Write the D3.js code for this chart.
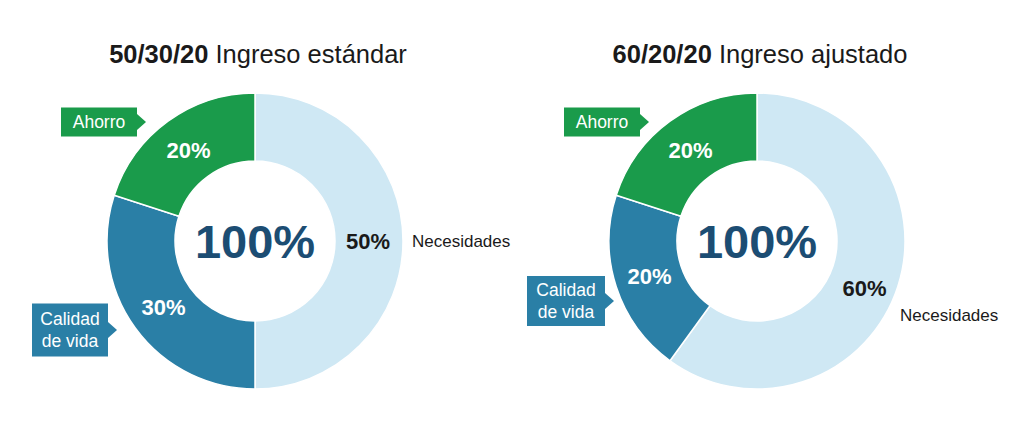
<!DOCTYPE html>
<html>
<head>
<meta charset="utf-8">
<script src="https://cdn.jsdelivr.net/npm/d3@7"></script>
<style>
  html, body { margin: 0; padding: 0; background: #ffffff; }
  svg { display: block; font-family: "Liberation Sans", Arial, sans-serif; }
</style>
</head>
<body>
<svg id="chart" width="1024" height="427"></svg>
<script>
// ---- data ----
const categories = ["Necesidades", "Calidad de vida", "Ahorro"];
const chartTitlesBold = ["50/30/20", "60/20/20"];
const chartTitlesRest = ["Ingreso estándar", "Ingreso ajustado"];
const valuesStandard = [50, 30, 20];
const valuesAdjusted = [60, 20, 20];
const centerLabel = "100%";
const colors = ["#cfe8f4", "#2a7fa6", "#1a9b4b"];

// ---- layout ----
const W = 1024, H = 427;
const svg = d3.select("#chart");
const outerR = 148, innerR = 80, labelR = 113;

const charts = [
  { cx: 255, cy: 241, values: valuesStandard, title: 0,
    needsLabel: { x: 157, y: 0 },
    callouts: [null, { rx: -147, cy: 89, w: 76, h: 53 }, { rx: -118, cy: -119, w: 76, h: 29 }] },
  { cx: 757, cy: 241, values: valuesAdjusted, title: 1,
    needsLabel: { x: 143, y: 74 },
    callouts: [null, { rx: -152, cy: 60, w: 78, h: 50 }, { rx: -117, cy: -119, w: 76, h: 29 }] }
];

const pie = d3.pie().sort(null).value(d => d);
const arc = d3.arc().innerRadius(innerR).outerRadius(outerR);
const labelArc = d3.arc().innerRadius(labelR).outerRadius(labelR);

charts.forEach(c => {
  const g = svg.append("g").attr("transform", `translate(${c.cx},${c.cy})`);
  const arcs = pie(c.values);

  // title
  const t = svg.append("text")
    .attr("x", c.cx + 3).attr("y", 63)
    .attr("text-anchor", "middle")
    .attr("font-size", 25.5)
    .attr("fill", "#1a1a1a");
  t.append("tspan").attr("font-weight", "bold").text(chartTitlesBold[c.title]);
  t.append("tspan").text(" " + chartTitlesRest[c.title]);

  // slices
  g.selectAll("path.slice").data(arcs).enter().append("path")
    .attr("class", "slice")
    .attr("d", arc)
    .attr("fill", (d, i) => colors[i])
    .attr("stroke", "#ffffff")
    .attr("stroke-width", 1.5);

  // percentage labels
  g.selectAll("text.pct").data(arcs).enter().append("text")
    .attr("class", "pct")
    .attr("transform", d => {
      const [x, y] = labelArc.centroid(d);
      // the large "Necesidades" slice label sits a bit lower in the reference
      return `translate(${x},${y + (d.index === 0 && d.data !== 50 ? 12 : 0)})`;
    })
    .attr("text-anchor", "middle")
    .attr("dy", "0.36em")
    .attr("font-size", 22)
    .attr("font-weight", "bold")
    .attr("fill", (d, i) => i === 0 ? "#1a1a1a" : "#ffffff")
    .text(d => d.data + "%");

  // center label
  g.append("text")
    .attr("text-anchor", "middle")
    .attr("dy", "0.36em")
    .attr("font-size", 47)
    .attr("font-weight", "bold")
    .attr("fill", "#1c4d73")
    .text(centerLabel);

  // "Necesidades" plain label
  g.append("text")
    .attr("x", c.needsLabel.x).attr("y", c.needsLabel.y)
    .attr("dy", "0.36em")
    .attr("font-size", 17)
    .attr("fill", "#1a1a1a")
    .text(categories[0]);

  // callouts
  c.callouts.forEach((co, i) => {
    if (!co) return;
    const x1 = co.rx, x0 = co.rx - co.w;
    const y0 = co.cy - co.h / 2, y1 = co.cy + co.h / 2;
    const p = d3.path();
    p.moveTo(x0, y0);
    p.lineTo(x1, y0);
    p.lineTo(x1, co.cy - 8);
    p.lineTo(x1 + 9, co.cy);
    p.lineTo(x1, co.cy + 8);
    p.lineTo(x1, y1);
    p.lineTo(x0, y1);
    p.closePath();
    g.append("path").attr("d", p.toString()).attr("fill", colors[i]);

    const words = i === 1 ? ["Calidad", "de vida"] : [categories[i]];
    const lh = 22;
    const txt = g.append("text")
      .attr("text-anchor", "middle")
      .attr("font-size", 17.5)
      .attr("fill", "#ffffff");
    words.forEach((w, k) => {
      txt.append("tspan")
        .attr("x", (x0 + x1) / 2)
        .attr("y", co.cy + (k - (words.length - 1) / 2) * lh)
        .attr("dy", "0.36em")
        .text(w);
    });
  });
});
</script>
</body>
</html>
